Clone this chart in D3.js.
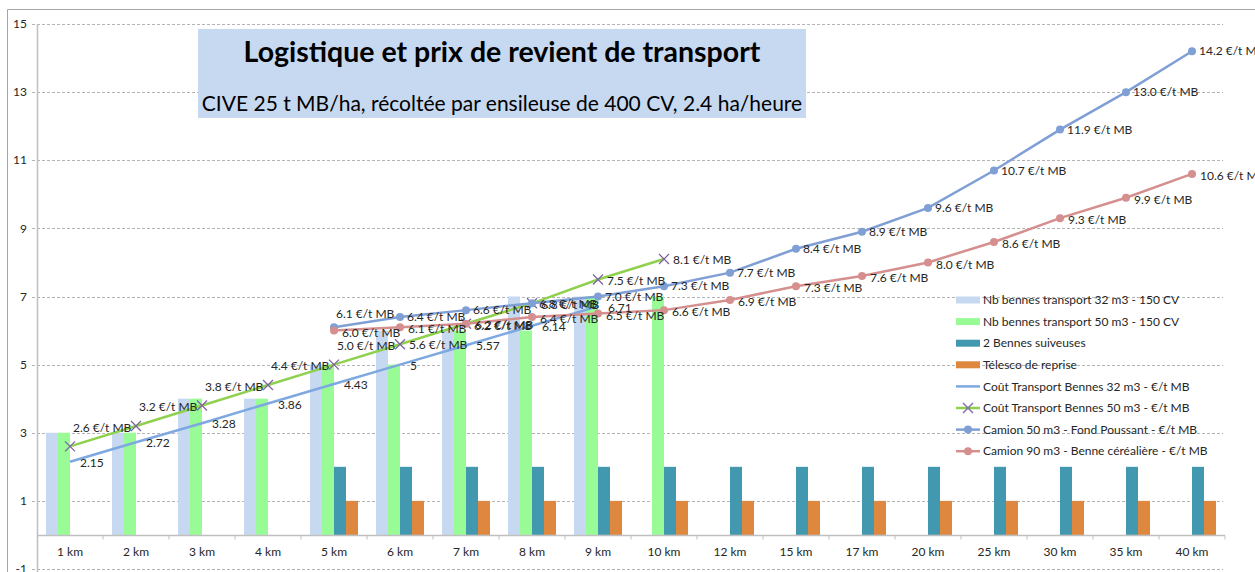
<!DOCTYPE html>
<html>
<head>
<meta charset="utf-8">
<title>Logistique et prix de revient de transport</title>
<style>
  body { margin: 0; background: #fff; }
  svg text { font-family: Lato, "Liberation Sans", sans-serif; fill: #262626; }
  .grid line { stroke: #b4b4b4; stroke-dasharray: 3,2; }
</style>
</head>
<body>
<svg width="1255" height="572"></svg>
<script src="https://cdn.jsdelivr.net/npm/d3@7/dist/d3.min.js"></script>
<script>
// categories (distance)
var categories = ["1 km", "2 km", "3 km", "4 km", "5 km", "6 km", "7 km", "8 km", "9 km", "10 km",
  "12 km", "15 km", "17 km", "20 km", "25 km", "30 km", "35 km", "40 km"];

// bar series
var benne32 = [3, 3, 4, 4, 5, 6, 6, 7, 7, null, null, null, null, null, null, null, null, null];
var benne50 = [3, 3, 4, 4, 5, 5, 6, 6, 7, 7, null, null, null, null, null, null, null, null];
var suiveuses = [null, null, null, null, 2, 2, 2, 2, 2, 2, 2, 2, 2, 2, 2, 2, 2, 2];
var telesco = [null, null, null, null, 1, 1, 1, 1, 1, 1, 1, 1, 1, 1, 1, 1, 1, 1];

// line series (€/t MB)
var cout32 = [2.15, 2.72, 3.28, 3.86, 4.43, 5, 5.57, 6.14, 6.71, null, null, null, null, null, null, null, null, null];
var cout50 = [2.6, 3.2, 3.8, 4.4, 5.0, 5.6, 6.2, 6.8, 7.5, 8.1, null, null, null, null, null, null, null, null];
var camion50 = [null, null, null, null, 6.1, 6.4, 6.6, 6.8, 7.0, 7.3, 7.7, 8.4, 8.9, 9.6, 10.7, 11.9, 13.0, 14.2];
var camion90 = [null, null, null, null, 6.0, 6.1, 6.2, 6.4, 6.5, 6.6, 6.9, 7.3, 7.6, 8.0, 8.6, 9.3, 9.9, 10.6];

var yTicks = [-1, 1, 3, 5, 7, 9, 11, 13, 15];

var title = "Logistique et prix de revient de transport";
var subtitle = "CIVE 25 t MB/ha, récoltée par ensileuse de 400 CV, 2.4 ha/heure";

var svg = d3.select("svg");

var x = d3.scaleBand().domain(categories).range([37, 1225]);
var y = d3.scaleLinear().domain([-1, 15]).range([569, 24]);

var barSeries = [
  { name: "Nb bennes transport 32 m3 - 150 CV", values: benne32, color: "#c6d9f1" },
  { name: "Nb bennes transport 50 m3 - 150 CV", values: benne50, color: "#99fb95" },
  { name: "2 Bennes suiveuses", values: suiveuses, color: "#4198af" },
  { name: "Télesco de reprise", values: telesco, color: "#dd873f" }
];
var x1 = d3.scaleBand().domain(barSeries.map(function(s) { return s.name; }))
  .range([9, x.bandwidth() - 9]);

var fmt = function(v) { return v.toFixed(1) + " €/t MB"; };
var lineSeries = [
  { name: "Coût Transport Bennes 32 m3 - €/t MB", values: cout32, color: "#7ea8e0", marker: "none",
    label: function(v) { return String(v); },
    off: function(i) { return [10, 1]; } },
  { name: "Coût Transport Bennes 50 m3 - €/t MB", values: cout50, color: "#8fd14f", marker: "x",
    label: fmt,
    off: function(i) { return i < 5 ? [3, -19] : [9, 1]; } },
  { name: "Camion 50 m3 - Fond Poussant - €/t MB", values: camion50, color: "#7f9fd5", marker: "circle",
    label: fmt,
    off: function(i) { return i === 4 ? [2, -13] : [7, 0]; } },
  { name: "Camion 90 m3 - Benne céréalière - €/t MB", values: camion90, color: "#d48f8e", marker: "circle",
    label: fmt,
    off: function(i) { return [8, 2]; } }
];

// outer chart border
svg.append("path")
  .attr("d", "M7.5,572 V9.5 H1255")
  .attr("fill", "none").attr("stroke", "#a6a6a6");

// gridlines + y labels
var grid = svg.append("g").attr("class", "grid");
grid.selectAll("line").data(yTicks).enter().append("line")
  .attr("x1", 32).attr("x2", 1223)
  .attr("y1", function(d) { return Math.round(y(d)) + 0.5; })
  .attr("y2", function(d) { return Math.round(y(d)) + 0.5; });
svg.append("g").selectAll("text").data(yTicks).enter().append("text")
  .attr("x", 27).attr("y", function(d) { return y(d); })
  .attr("dy", "0.35em").attr("text-anchor", "end")
  .style("font-size", "12px")
  .text(function(d) { return d; });

// y axis line
svg.append("line")
  .attr("x1", 37.5).attr("x2", 37.5).attr("y1", y(15)).attr("y2", 572)
  .attr("stroke", "#bfbfbf").attr("stroke-width", 1.5);

// title box
svg.append("rect")
  .attr("x", 198).attr("y", 29).attr("width", 608).attr("height", 89)
  .attr("fill", "#c6d9f1");
svg.append("text")
  .attr("x", 502).attr("y", 62).attr("text-anchor", "middle")
  .style("font-size", "28.5px").style("font-weight", "bold").style("fill", "#000")
  .text(title);
svg.append("text")
  .attr("x", 502).attr("y", 111).attr("text-anchor", "middle")
  .style("font-size", "21px").style("fill", "#000")
  .text(subtitle);

// bars
barSeries.forEach(function(s) {
  svg.append("g").selectAll("rect")
    .data(s.values.map(function(v, i) { return { c: categories[i], v: v }; })
      .filter(function(d) { return d.v != null; }))
    .enter().append("rect")
    .attr("x", function(d) { return x(d.c) + x1(s.name); })
    .attr("y", function(d) { return y(d.v); })
    .attr("width", x1.bandwidth())
    .attr("height", function(d) { return y(0) - y(d.v); })
    .attr("fill", s.color);
});

// x axis
var xAxis = svg.append("g")
  .attr("transform", "translate(0," + (Math.round(y(0)) + 0.5) + ")");
xAxis.append("line").attr("x1", 37).attr("x2", 1225).attr("stroke", "#bfbfbf").attr("stroke-width", 1.5);
xAxis.selectAll(".tk").data(categories).enter().append("line")
  .attr("x1", function(d) { return x(d) + x.step(); })
  .attr("x2", function(d) { return x(d) + x.step(); })
  .attr("y1", 0).attr("y2", 4).attr("stroke", "#bfbfbf");
xAxis.selectAll("text").data(categories).enter().append("text")
  .attr("x", function(d) { return x(d) + x.bandwidth() / 2; })
  .attr("y", 16).attr("dy", "0.35em").attr("text-anchor", "middle")
  .style("font-size", "12px")
  .text(function(d) { return d; });

// lines
function drawMarker(g, type, color) {
  if (type === "circle") {
    g.append("circle").attr("r", 4).attr("fill", color);
  } else if (type === "x") {
    g.append("path").attr("d", "M-5,-5L5,5M-5,5L5,-5")
      .attr("stroke", "#8064a2").attr("stroke-width", 1.3).attr("fill", "none");
  }
}

lineSeries.forEach(function(s) {
  var pts = s.values.map(function(v, i) { return { c: categories[i], v: v, i: i }; })
    .filter(function(d) { return d.v != null; });
  var line = d3.line()
    .x(function(d) { return x(d.c) + x.bandwidth() / 2; })
    .y(function(d) { return y(d.v); });
  svg.append("path").datum(pts)
    .attr("d", line).attr("fill", "none")
    .attr("stroke", s.color).attr("stroke-width", 2.5);
  pts.forEach(function(d) {
    var g = svg.append("g")
      .attr("transform", "translate(" + (x(d.c) + x.bandwidth() / 2) + "," + y(d.v) + ")");
    drawMarker(g, s.marker, s.color);
  });
  s.pts = pts;
});

// data labels
lineSeries.forEach(function(s) {
  svg.append("g").selectAll("text").data(s.pts).enter().append("text")
    .attr("x", function(d) { return x(d.c) + x.bandwidth() / 2 + s.off(d.i)[0]; })
    .attr("y", function(d) { return y(d.v) + s.off(d.i)[1]; })
    .attr("dy", "0.35em")
    .style("font-size", "12px")
    .text(function(d) { return s.label(d.v); });
});

// legend
var legend = svg.append("g").attr("transform", "translate(956,300)");
var items = barSeries.map(function(s) { return { s: s, bar: true }; })
  .concat(lineSeries.map(function(s) { return { s: s, bar: false }; }));
items.forEach(function(it, i) {
  var g = legend.append("g").attr("transform", "translate(0," + (i * 21.6) + ")");
  if (it.bar) {
    g.append("rect").attr("x", 0).attr("y", -3.5).attr("width", 24).attr("height", 7).attr("fill", it.s.color);
  } else {
    g.append("line").attr("x1", 0).attr("x2", 24).attr("stroke", it.s.color).attr("stroke-width", 2.5);
    var m = g.append("g").attr("transform", "translate(12,0)");
    drawMarker(m, it.s.marker, it.s.color);
  }
  g.append("text").attr("x", 27).attr("dy", "0.35em")
    .style("font-size", "12px")
    .text(it.s.name);
});
</script>
</body>
</html>
